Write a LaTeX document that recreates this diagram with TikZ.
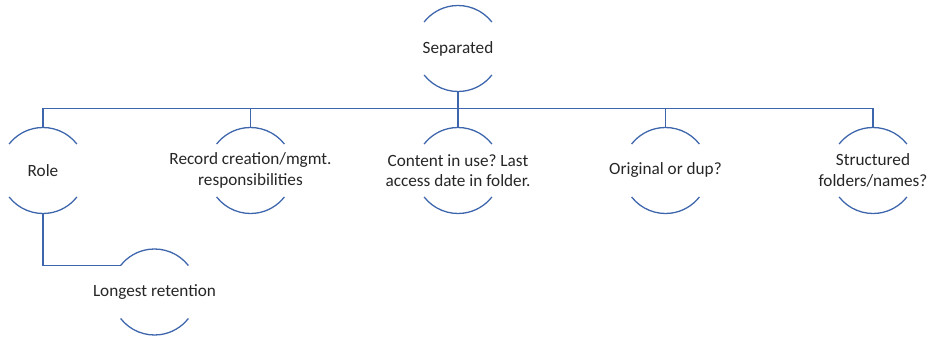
\documentclass[tikz,border=0pt]{standalone}
\usepackage{fontspec}
\setmainfont{Carlito}
\frenchspacing
\definecolor{arcblue}{RGB}{62,102,172}
\tikzset{
  x=1pt, y=1pt,
  hub/.style={circle, minimum size=86pt, inner sep=0pt, outer sep=0pt},
  txt/.style={font=\fontsize{17.2}{20.5}\selectfont, align=center, text=black!85},
  link/.style={draw=arcblue, line width=1.3pt},
  rim/.style={draw=arcblue, line width=1.3pt}
}
% top and bottom arcs of a circular node
\newcommand{\rims}[1]{%
  \draw[rim] (#1.38) arc[start angle=38, end angle=142, radius=43pt];
  \draw[rim] (#1.218) arc[start angle=218, end angle=322, radius=43pt];
}
\begin{document}
\begin{tikzpicture}
\useasboundingbox (0,0) rectangle (932,-339);

\node[hub, label={[txt]center:Separated}] (sep) at (458,-48.5) {};
\node[hub, label={[txt]center:Role}] (role) at (43,-170.5) {};
\node[hub, label={[txt]center:Record creation/mgmt.\\responsibilities}] (rec) at (250.5,-170.5) {};
\node[hub, label={[txt]center:Content in use? Last\\access date in folder.}] (cont) at (458,-170.5) {};
\node[hub, label={[txt]center:Original or dup?}] (orig) at (665.5,-170.5) {};
\node[hub, label={[txt]center:Structured\\folders/names?}] (struc) at (873,-170.5) {};
\node[hub, label={[txt]center:Longest retention}] (long) at (154.5,-292) {};

\foreach \n in {sep,role,rec,cont,orig,struc,long}{\rims{\n}}

% bus from the root to each child
\foreach \n in {role,rec,cont,orig,struc}{
  \draw[link] (sep.south) -- ++(0,-17) -| (\n.north);
}
% branch from Role
\draw[link] (role.south) |- (long.142);
\end{tikzpicture}
\end{document}
